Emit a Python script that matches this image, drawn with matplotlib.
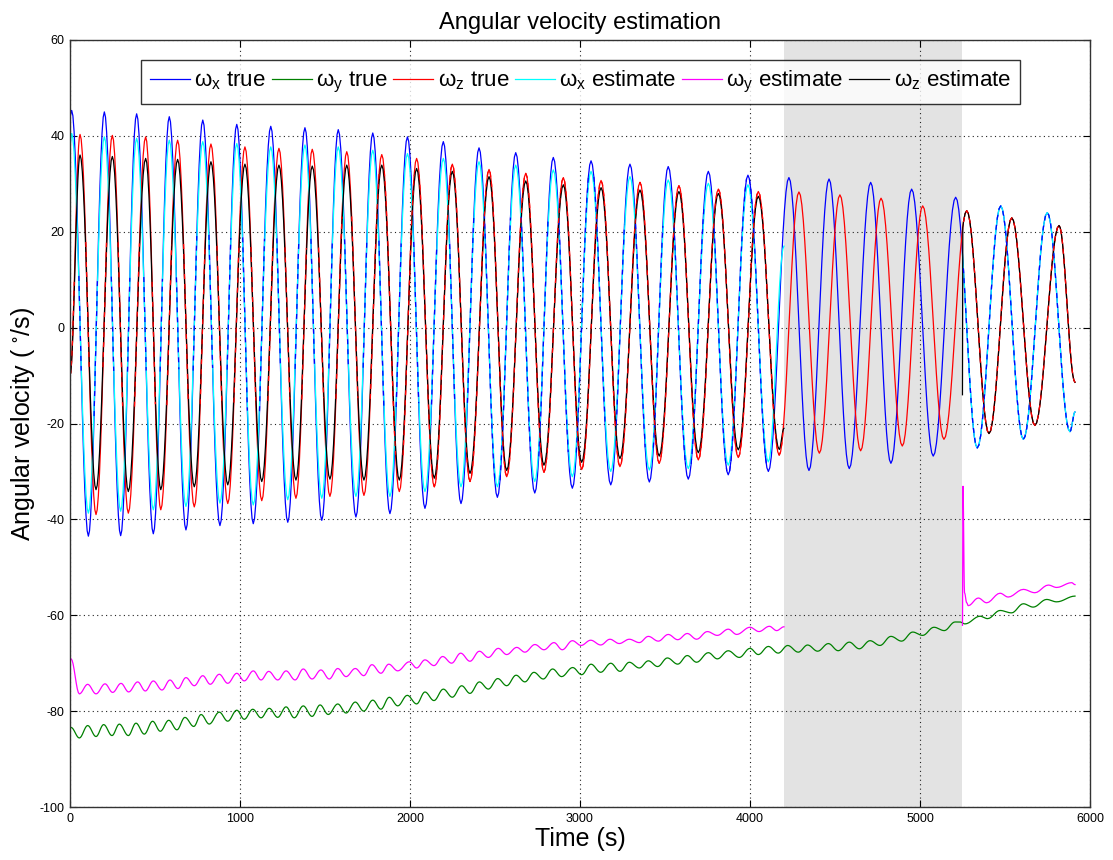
import numpy as np
import matplotlib
matplotlib.use("Agg")
import matplotlib.pyplot as plt

plt.rcParams['font.family'] = ['Liberation Sans', 'DejaVu Sans']
plt.rcParams['mathtext.default'] = 'regular'
plt.rcParams['axes.unicode_minus'] = False

# ---- omega_x true (blue): extrema (s, deg/s)
wx_peak_t = [10, 202, 392, 584, 781, 981, 1181, 1382, 1578, 1781, 1985, 2196, 2406, 2622,
             2843, 3065, 3294, 3519, 3755, 3988, 4229, 4465, 4710, 4951, 5210, 5475, 5749]
wx_peak_v = [45.3, 45.0, 44.6, 44.0, 43.3, 42.4, 42.0, 41.7, 41.3, 40.6, 39.8, 38.8, 37.5, 36.5,
             35.5, 34.8, 34.1, 33.6, 32.6, 31.8, 31.3, 31.0, 30.3, 28.9, 27.2, 25.4, 24.0]
wx_trough_t = [108, 298, 490, 682, 882, 1078, 1281, 1481, 1682, 1882, 2088, 2300, 2514, 2734,
               2955, 3181, 3408, 3637, 3872, 4108, 4347, 4584, 4829, 5078, 5337, 5608, 5882]
wx_trough_v = [-43.5, -43.4, -43.0, -42.2, -41.3, -40.9, -40.6, -40.2, -39.5, -38.8, -37.7, -36.7,
               -35.4, -34.5, -33.5, -32.8, -32.2, -31.6, -30.7, -30.0, -29.8, -29.4, -28.3, -26.8,
               -25.1, -23.3, -21.7]
wx_ends = [(0, 44.0), (5912, -17.6)]

# ---- omega_z true (red)
wz_peak_t = [59, 249, 445, 633, 829, 1029, 1229, 1425, 1628, 1834, 2039, 2249, 2465, 2681,
             2902, 3124, 3353, 3582, 3814, 4049, 4288, 4529, 4771, 5016, 5275, 5540, 5818]
wz_peak_v = [40.3, 40.1, 39.8, 39.1, 38.3, 37.7, 37.4, 37.2, 36.7, 36.1, 35.3, 34.1, 33.0, 32.2,
             31.3, 30.7, 30.3, 29.6, 28.9, 28.4, 28.3, 27.7, 27.0, 25.4, 24.4, 22.9, 21.3]
wz_trough_t = [153, 343, 534, 731, 928, 1128, 1329, 1529, 1729, 1937, 2143, 2353, 2569, 2788,
               3010, 3235, 3466, 3696, 3931, 4172, 4408, 4651, 4896, 5141, 5406, 5676]
wz_trough_v = [-39.0, -38.7, -38.0, -37.4, -36.7, -36.1, -35.6, -35.2, -35.0, -34.2, -33.2, -32.1,
               -31.1, -30.2, -29.6, -29.0, -28.3, -27.6, -27.1, -26.6, -26.2, -25.7, -24.7, -23.3,
               -22.1, -20.4]
wz_ends = [(0, -10.0), (5912, -11.4)]

# ---- omega_x estimate (cyan) before the outage, same extremum times as blue
wxe_peak_v = [40.5, 39.8, 39.5, 39.1, 38.8, 38.4, 37.7, 38.1, 37.7, 37.0, 36.3, 35.3, 34.6, 33.9,
              32.9, 32.6, 31.5, 30.8, 30.1, 29.8]
wxe_trough_v = [-38.7, -38.3, -38.0, -37.3, -36.6, -37.0, -35.9, -35.6, -35.2, -35.2, -34.2, -33.2,
                -33.2, -32.1, -31.1, -30.0, -29.7, -29.4, -28.7, -28.0]
wxe_ends = [(0, 38.0), (4200, 17.0)]

# ---- omega_z estimate (black) before the outage, same extremum times as red
wze_peak_v = [36.0, 35.7, 35.3, 35.1, 34.6, 34.1, 33.9, 33.7, 33.9, 33.9, 33.2, 32.6, 31.5, 30.6,
              29.8, 29.2, 28.7, 28.4, 28.0, 27.4]
wze_trough_v = [-33.8, -34.2, -33.8, -33.2, -32.8, -32.1, -31.8, -31.6, -31.8, -31.8, -31.4, -30.4,
                -29.8, -28.7, -28.1, -27.3, -26.8, -26.1, -25.5, -25.4]
wze_ends = [(0, -10.0), (4200, -21.0)]
wze_restart = (5250, -14.0)

# ---- omega_y true (green): extrema in order
wy_t = [6, 55, 104, 153, 198, 247, 290, 343, 388, 437, 486, 531, 581, 629, 676, 728, 771, 819,
        878, 928, 981, 1025, 1075, 1124, 1172, 1222, 1271, 1319, 1372, 1424, 1471, 1519, 1575,
        1624, 1678, 1728, 1781, 1829, 1878, 1928,
        1984, 2039, 2088, 2141, 2196, 2249, 2304, 2353, 2408, 2461, 2516, 2569, 2624, 2676, 2729,
        2784, 2839, 2892, 2957, 3010, 3065, 3122, 3181, 3235, 3290, 3349, 3402, 3457, 3514, 3575,
        3631, 3686, 3755, 3808, 3872,
        3937, 4000, 4049, 4108, 4166, 4222, 4284, 4339, 4398, 4461, 4519, 4584, 4643, 4706, 4765,
        4829, 4892, 4957, 5016, 5082, 5143, 5206, 5235, 5265, 5353, 5398, 5471, 5539, 5608, 5666,
        5745, 5804, 5912]
wy_v = [-83.4, -85.6, -83.0, -85.3, -82.8, -85.1, -82.7, -85.1, -82.5, -84.8, -82.1, -84.2,
        -81.9, -83.9, -81.3, -83.2, -80.7, -82.7, -80.2, -82.1, -79.8, -81.7, -79.6, -81.4,
        -79.4, -81.3, -79.1, -81.4, -78.9, -81.1, -78.7, -80.7, -78.5, -80.4, -78.1, -80.0,
        -77.7, -79.6, -77.1, -78.9,
        -76.7, -78.5, -76.0, -77.8, -75.4, -77.1, -74.7, -76.3, -73.9, -75.4, -73.2, -74.7,
        -72.5, -73.9, -71.9, -73.3, -71.2, -72.8, -70.9, -72.4, -70.2, -71.9, -70.0, -71.7,
        -69.8, -71.0, -69.5, -70.7, -68.9, -70.2, -68.4, -69.8, -67.8, -69.1, -67.4,
        -68.8, -66.9, -68.2, -66.5, -67.9, -66.3, -67.7, -66.2, -67.5, -65.9, -67.4, -65.6,
        -67.0, -65.3, -66.3, -64.4, -65.4, -63.5, -64.2, -62.5, -63.2, -61.4, -61.4, -61.8,
        -60.2, -60.7, -59.0, -59.5, -57.6, -58.3, -56.7, -57.2, -56.0]

# ---- omega_y estimate (magenta): before outage, then after restart
wye_t = [6, 55, 104, 153, 206, 251, 300, 345, 398, 443, 490, 541, 588, 635, 682, 731, 781, 825,
         878, 928, 981, 1025, 1078, 1124, 1169, 1222, 1271, 1324, 1372, 1424, 1476, 1525, 1575,
         1624, 1678, 1728, 1776, 1829, 1875, 1928,
         1996, 2039, 2088, 2141, 2192, 2245, 2298, 2353, 2408, 2461, 2519, 2569, 2628, 2676, 2735,
         2788, 2847, 2896, 2955, 3006, 3063, 3122, 3176, 3231, 3290, 3349, 3402, 3461, 3519, 3575,
         3631, 3686, 3749, 3808, 3872, 3922,
         4000, 4053, 4114, 4157, 4200]
wye_v = [-69.1, -76.4, -74.4, -76.4, -74.3, -76.1, -74.2, -76.0, -73.9, -75.8, -73.7, -75.6,
         -73.5, -75.3, -73.0, -74.7, -72.6, -74.4, -72.3, -74.2, -72.1, -73.7, -71.6, -73.5,
         -71.7, -73.5, -71.6, -73.5, -71.2, -73.3, -71.4, -73.3, -71.1, -72.8, -71.1, -72.6,
         -70.3, -72.1, -70.2, -71.6,
         -69.7, -71.0, -69.3, -70.5, -68.6, -70.0, -67.9, -69.6, -67.5, -68.8, -66.9, -68.2,
         -66.7, -67.7, -66.1, -67.2, -65.7, -67.2, -65.3, -66.3, -65.2, -66.2, -65.0, -65.9,
         -65.0, -65.7, -64.4, -65.4, -64.0, -65.1, -63.8, -65.0, -63.4, -64.2, -62.9, -64.0,
         -62.5, -63.4, -62.3, -63.2, -62.4]
wye2_t = [5250, 5253, 5262, 5275, 5284, 5343, 5392, 5471, 5519, 5608, 5676, 5755, 5804, 5892, 5912]
wye2_v = [-62.1, -33.1, -55.3, -57.4, -58.0, -56.4, -57.4, -55.4, -56.2, -54.6, -55.3, -53.7,
          -54.2, -53.2, -53.6]

outage = (4200, 5250)
labels = [r'$\omega_x$ true', r'$\omega_y$ true', r'$\omega_z$ true',
          r'$\omega_x$ estimate', r'$\omega_y$ estimate', r'$\omega_z$ estimate']


def smooth(t_pts, v_pts, n=14):
    # half-cosine segments between the read extrema
    t_pts = np.asarray(t_pts, float)
    v_pts = np.asarray(v_pts, float)
    s = np.linspace(0, 1, n, endpoint=False)
    tt, vv = [], []
    for i in range(len(t_pts) - 1):
        tt.append(t_pts[i] + (t_pts[i + 1] - t_pts[i]) * s)
        vv.append(v_pts[i] + (v_pts[i + 1] - v_pts[i]) * (1 - np.cos(np.pi * s)) / 2)
    tt.append([t_pts[-1]])
    vv.append([v_pts[-1]])
    return np.concatenate(tt), np.concatenate(vv)


def merge(ends, pt, pv, tt, tv):
    pts = [ends[0]] + list(zip(pt, pv)) + list(zip(tt, tv)) + [ends[1]]
    pts.sort()
    return [p[0] for p in pts], [p[1] for p in pts]


def after(t, v, t0):
    m = t >= t0
    return np.r_[t0, t[m]], np.r_[np.interp(t0, t, v), v[m]]


def near(t, v, t2, v2, tol=2.0):
    # copy of (t, v) kept only where the other curve runs close to it
    w = np.interp(t, t2, v2, left=np.nan, right=np.nan)
    out = v.copy()
    out[~(np.abs(w - v) < tol)] = np.nan
    return out


def main():
    fig = plt.figure(figsize=(11.13, 8.6), dpi=100)
    ax = fig.add_axes([0.0629, 0.0616, 0.9164, 0.8919])

    ax.axvspan(outage[0], outage[1], color='#e3e3e3', lw=0, zorder=0.5)

    bx_t, bx_v = smooth(*merge(wx_ends, wx_peak_t, wx_peak_v, wx_trough_t, wx_trough_v))
    rz_t, rz_v = smooth(*merge(wz_ends, wz_peak_t, wz_peak_v, wz_trough_t, wz_trough_v))
    n_est = len(wxe_peak_v)
    cx_t, cx_v = smooth(*merge(wxe_ends, wx_peak_t[:n_est], wxe_peak_v,
                               wx_trough_t[:n_est], wxe_trough_v))
    kz_t, kz_v = smooth(*merge(wze_ends, wz_peak_t[:n_est], wze_peak_v,
                               wz_trough_t[:n_est], wze_trough_v))
    gy_t, gy_v = smooth(wy_t, wy_v, n=8)
    my_t, my_v = smooth(wye_t, wye_v, n=8)
    my2_t, my2_v = smooth(wye2_t, wye2_v, n=6)

    cx2_t, cx2_v = after(bx_t, bx_v, outage[1])
    kz2_t, kz2_v = after(rz_t, rz_v, outage[1] + 2)
    kz2_t = np.r_[wze_restart[0], kz2_t]
    kz2_v = np.r_[wze_restart[1], kz2_v]

    lw = 0.9
    h1, = ax.plot(bx_t, bx_v, color=(0, 0, 1), lw=lw)
    h2, = ax.plot(gy_t, gy_v, color=(0, 0.5, 0), lw=lw)
    h3, = ax.plot(rz_t, rz_v, color=(1, 0, 0), lw=lw)
    h4, = ax.plot(cx_t, cx_v, color=(0, 1, 1), lw=lw)
    ax.plot(cx2_t, cx2_v, color=(0, 1, 1), lw=lw)
    h5, = ax.plot(my_t, my_v, color=(1, 0, 1), lw=lw)
    ax.plot(my2_t, my2_v, color=(1, 0, 1), lw=lw)
    h6, = ax.plot(kz_t, kz_v, color='black', lw=lw)
    ax.plot(kz2_t, kz2_v, color='black', lw=lw)

    # overlapping true/estimate traces show through one another
    bx_near = np.fmax(near(bx_t, bx_v, cx_t, cx_v), near(bx_t, bx_v, cx2_t, cx2_v))
    rz_near = np.fmax(near(rz_t, rz_v, kz_t, kz_v), near(rz_t, rz_v, kz2_t, kz2_v))
    ax.plot(bx_t, bx_near, color=(0, 0, 1), lw=lw, ls=(0, (4, 4)))
    ax.plot(rz_t, rz_near, color=(1, 0, 0), lw=lw, ls=(0, (4, 4)))

    ax.set_xlim(0, 6000)
    ax.set_ylim(-100, 60)
    ax.set_xticks(np.arange(0, 6001, 1000))
    ax.set_yticks(np.arange(-100, 61, 20))
    ax.tick_params(direction='in', top=True, right=True, length=5, labelsize=9, pad=4)
    ax.grid(True, color='#222222', lw=0.8, linestyle=(0, (1, 3)))
    for sp in ax.spines.values():
        sp.set_color('#333333')
        sp.set_linewidth(1.0)

    ax.set_title('Angular velocity estimation', fontsize=17, pad=8)
    ax.set_xlabel('Time (s)', fontsize=18, labelpad=2)
    ax.set_ylabel(r'Angular velocity ( $^{\circ}$/s)', fontsize=18, labelpad=2)

    leg = ax.legend([h1, h2, h3, h4, h5, h6], labels, ncol=6, loc='upper center',
                    bbox_to_anchor=(0.5005, 0.974), fontsize=16, frameon=True, fancybox=False,
                    handlelength=1.8, handletextpad=0.2, columnspacing=0.25, borderpad=0.4,
                    borderaxespad=0)
    leg.get_frame().set_edgecolor('black')
    leg.get_frame().set_linewidth(1.0)

    fig.savefig('out.png', dpi=100)


if __name__ == '__main__':
    main()
